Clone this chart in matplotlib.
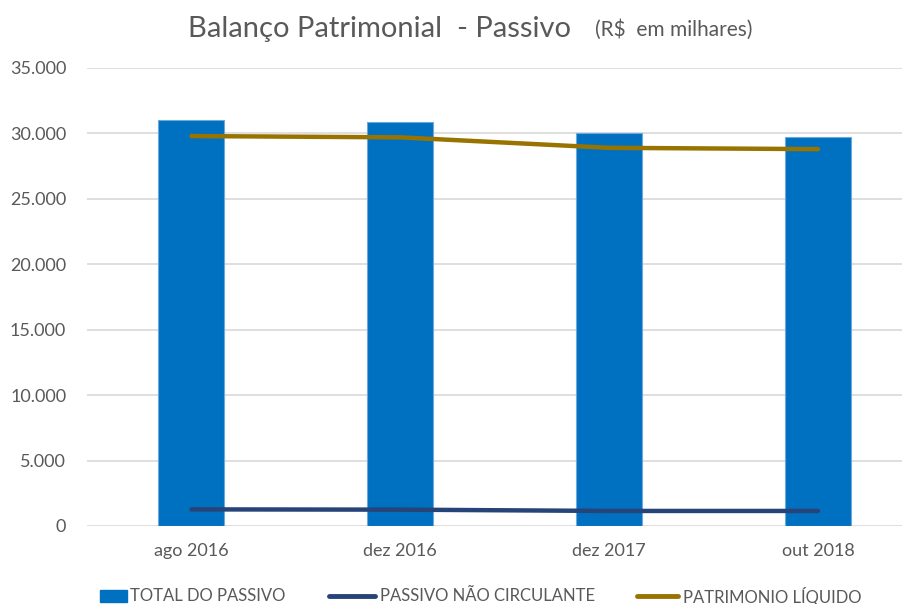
import matplotlib.pyplot as plt
from matplotlib.ticker import FuncFormatter
from matplotlib.lines import Line2D
from matplotlib.patches import Rectangle

periodos = ["ago 2016", "dez 2016", "dez 2017", "out 2018"]
total_passivo = [31000, 30900, 30000, 29700]
passivo_nao_circ = [1270, 1250, 1150, 1150]
patrimonio_liq = [29800, 29700, 28900, 28800]

plt.rcParams['font.family'] = ['Lato', 'DejaVu Sans']
cinza = '#595959'
azul = '#0070C0'
marinho = '#264478'
ouro = '#997300'

W, H = 903, 604
fig = plt.figure(figsize=(9.03, 6.04), dpi=100)
ax = fig.add_axes([87 / W, 78 / H, 1 - 87 / W, 458 / H])

x = list(range(len(periodos)))
ax.bar(x, total_passivo, width=0.316, color=azul, edgecolor='#6FA8DC',
       linewidth=0.8, zorder=2)
ax.plot(x, passivo_nao_circ, color=marinho, lw=3.2, solid_capstyle='round', zorder=3)
ax.plot(x, patrimonio_liq, color=ouro, lw=3.2, solid_capstyle='round', zorder=3)

ax.set_xlim(-0.5, 3.407)
ax.set_ylim(0, 35000)
ax.set_yticks(range(0, 35001, 5000))
ax.yaxis.set_major_formatter(FuncFormatter(lambda v, p: f"{int(v):,}".replace(",", ".")))
ax.set_xticks(x)
ax.set_xticklabels(periodos)
ax.tick_params(axis='both', length=0, colors=cinza, labelsize=13)
ax.tick_params(axis='y', pad=15)
ax.tick_params(axis='x', pad=12)
ax.grid(axis='y', color='#D9D9D9', lw=1.2, zorder=0)
for s in ax.spines.values():
    s.set_visible(False)

fig.text(188 / W, 1 - 37 / H, "Balanço Patrimonial  - Passivo", fontsize=21,
         color=cinza, ha='left', va='baseline')
fig.text(595 / W, 1 - 36 / H, "(R$  em milhares)", fontsize=15,
         color=cinza, ha='left', va='baseline')

# legenda manual (posições em pixels)
ly = 1 - 596 / H
fig.add_artist(Rectangle((100 / W, 1 - 602 / H), 27 / W, 12 / H,
                         transform=fig.transFigure, color=azul))
fig.add_artist(Line2D([329 / W, 375 / W], [ly, ly], transform=fig.transFigure,
                      color=marinho, lw=3.5, solid_capstyle='round'))
fig.add_artist(Line2D([637 / W, 678 / W], [ly, ly], transform=fig.transFigure,
                      color=ouro, lw=3.5, solid_capstyle='round'))
for px, txt in [(130, "TOTAL DO PASSIVO"), (380, "PASSIVO NÃO CIRCULANTE"),
                (683, "PATRIMONIO LÍQUIDO")]:
    fig.text(px / W, ly, txt, fontsize=12, color=cinza, ha='left', va='center')

fig.savefig("out.png", dpi=100)
